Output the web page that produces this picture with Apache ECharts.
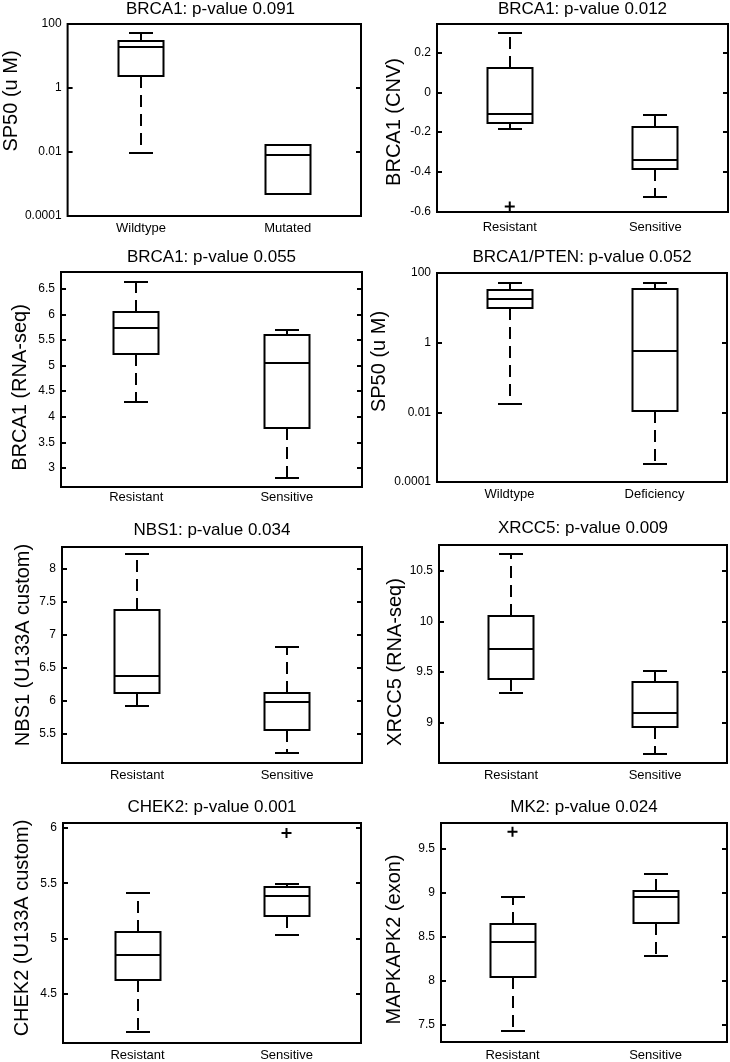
<!DOCTYPE html>
<html>
<head>
<meta charset="utf-8">
<script src="https://cdn.jsdelivr.net/npm/echarts@6/dist/echarts.min.js"></script>
<style>
	html, body { margin: 0; padding: 0; background: #fff; }
	#chart { width: 730px; height: 1062px; }
</style>
</head>
<body>
<div id="chart"></div>
<script>
// box stats per group: [lower whisker, q1, median, q3, upper whisker]
const titles = [
	'BRCA1: p-value 0.091', 'BRCA1: p-value 0.012',
	'BRCA1: p-value 0.055', 'BRCA1/PTEN: p-value 0.052',
	'NBS1: p-value 0.034', 'XRCC5: p-value 0.009',
	'CHEK2: p-value 0.001', 'MK2: p-value 0.024'
]
const yNames = [
	'SP50 (u M)', 'BRCA1 (CNV)',
	'BRCA1 (RNA-seq)', 'SP50 (u M)',
	'NBS1 (U133A custom)', 'XRCC5 (RNA-seq)',
	'CHEK2 (U133A custom)', 'MAPKAPK2 (exon)'
]
const mutCats = ['Wildtype', 'Mutated']
const ptenCats = ['Wildtype', 'Deficiency']
const respCats = ['Resistant', 'Sensitive']

const brca1MutStats = [[0.0091, 2.37, 18.6, 30, 51], [0.00048, 0.00048, 0.0081, 0.0166, 0.0166]]
const brca1CnvStats = [[-0.186, -0.153, -0.108, 0.123, 0.296], [-0.527, -0.383, -0.341, -0.172, -0.116]]
const brca1RnaStats = [[4.28, 5.23, 5.74, 6.055, 6.64], [2.8, 3.78, 5.04, 5.6, 5.69]]
const ptenStats = [[0.0178, 10.2, 18, 31.6, 51], [0.00033, 0.011, 0.56, 34.6, 51]]
const nbs1Stats = [[5.93, 6.122, 6.383, 7.372, 8.215], [5.22, 5.565, 5.99, 6.122, 6.815]]
const xrcc5Stats = [[9.3, 9.43, 9.725, 10.05, 10.66], [8.695, 8.96, 9.1, 9.4, 9.51]]
const chek2Stats = [[4.15, 4.626, 4.852, 5.054, 5.415], [5.027, 5.2, 5.38, 5.47, 5.49]]
const mk2Stats = [[7.42, 8.034, 8.44, 8.637, 8.947], [8.276, 8.652, 8.947, 9.02, 9.209]]

// outliers: [group index, value]
const brca1CnvOut = [[0, -0.572]]
const chek2Out = [[1, 5.955]]
const mk2Out = [[0, 9.69]]

// axis limits and tick labels
const logLimits = [0.0001, 100]
const logTicks = [0.0001, 0.01, 1, 100]
const cnvLimits = [-0.6, 0.342]
const cnvTicks = [-0.6, -0.4, -0.2, 0, 0.2]
const rnaLimits = [2.627, 6.827]
const rnaTicks = [3, 3.5, 4, 4.5, 5, 5.5, 6, 6.5]
const nbs1Limits = [5.063, 8.325]
const nbs1Ticks = [5.5, 6, 6.5, 7, 7.5, 8]
const xrcc5Limits = [8.607, 10.75]
const xrcc5Ticks = [9, 9.5, 10, 10.5]
const chek2Limits = [4.053, 6.045]
const chek2Ticks = [4.5, 5, 5.5, 6]
const mk2Limits = [7.3, 9.79]
const mk2Ticks = [7.5, 8, 8.5, 9, 9.5]

const panels = [
	{ cats: mutCats, stats: brca1MutStats, out: [], lim: logLimits, ticks: logTicks, log: true },
	{ cats: respCats, stats: brca1CnvStats, out: brca1CnvOut, lim: cnvLimits, ticks: cnvTicks },
	{ cats: respCats, stats: brca1RnaStats, out: [], lim: rnaLimits, ticks: rnaTicks },
	{ cats: ptenCats, stats: ptenStats, out: [], lim: logLimits, ticks: logTicks, log: true },
	{ cats: respCats, stats: nbs1Stats, out: [], lim: nbs1Limits, ticks: nbs1Ticks },
	{ cats: respCats, stats: xrcc5Stats, out: [], lim: xrcc5Limits, ticks: xrcc5Ticks },
	{ cats: respCats, stats: chek2Stats, out: chek2Out, lim: chek2Limits, ticks: chek2Ticks },
	{ cats: respCats, stats: mk2Stats, out: mk2Out, lim: mk2Limits, ticks: mk2Ticks }
]

// layout: grid [left, top, width, height], title centre y, name gap,
// name shift along the axis (+ = up), x label margin
const layout = [
	{ grid: [60, 24, 301, 192], ty: 9, gap: 40, shift: 19, lm: 6 },
	{ grid: [437, 24, 291, 188], ty: 9, gap: 33, shift: -4, lm: 9 },
	{ grid: [61, 272, 301, 215], ty: 257, gap: 31, shift: -8, lm: 4 },
	{ grid: [437, 273, 290, 209], ty: 257, gap: 48, shift: 16, lm: 6 },
	{ grid: [62, 547, 300, 216], ty: 530, gap: 29, shift: 10, lm: 6 },
	{ grid: [439, 545, 288, 218], ty: 528, gap: 30, shift: -8, lm: 6 },
	{ grid: [63, 823, 298, 220], ty: 807, gap: 31, shift: 5, lm: 6 },
	{ grid: [441, 823, 286, 219], ty: 807, gap: 37, shift: -7, lm: 7 }
]

const FONT = 'Liberation Sans, Arial, sans-serif'
const BOX_W = 45
const CAP_W = 24

function renderBox(params, api) {
	const cat = api.value(0)
	const pt = (i) => api.coord([cat, api.value(i)])
	const lo = pt(1), q1 = pt(2), med = pt(3), q3 = pt(4), hi = pt(5)
	const cx = Math.round(lo[0])
	const r = (v) => Math.round(v)
	const solid = { stroke: '#000', lineWidth: 2, fill: null }
	const dashed = { stroke: '#000', lineWidth: 2, fill: null, lineDash: [12, 7] }
	return {
		type: 'group',
		children: [
			{ type: 'line', shape: { x1: cx, y1: r(q3[1]), x2: cx, y2: r(hi[1]) }, style: dashed },
			{ type: 'line', shape: { x1: cx, y1: r(q1[1]), x2: cx, y2: r(lo[1]) }, style: dashed },
			{ type: 'line', shape: { x1: cx - CAP_W / 2, y1: r(hi[1]), x2: cx + CAP_W / 2, y2: r(hi[1]) }, style: solid },
			{ type: 'line', shape: { x1: cx - CAP_W / 2, y1: r(lo[1]), x2: cx + CAP_W / 2, y2: r(lo[1]) }, style: solid },
			{
				type: 'rect',
				shape: { x: cx - BOX_W / 2, y: r(q3[1]), width: BOX_W, height: r(q1[1]) - r(q3[1]) },
				style: { stroke: '#000', lineWidth: 2, fill: '#fff' }
			},
			{ type: 'line', shape: { x1: cx - BOX_W / 2, y1: r(med[1]), x2: cx + BOX_W / 2, y2: r(med[1]) }, style: solid }
		]
	}
}

const option = {
	backgroundColor: '#fff',
	animation: false,
	title: [],
	grid: [],
	xAxis: [],
	yAxis: [],
	series: []
}

panels.forEach((p, i) => {
	const L = layout[i]
	const [left, top, width, height] = L.grid
	option.title.push({
		text: titles[i],
		left: left + width / 2,
		top: L.ty,
		textAlign: 'center',
		textVerticalAlign: 'middle',
		padding: 0,
		textStyle: { fontSize: 17, fontWeight: 'normal', color: '#000', fontFamily: FONT }
	})
	option.grid.push({
		left, top, width, height,
		show: true,
		borderColor: '#000',
		borderWidth: 2,
		backgroundColor: 'transparent'
	})
	option.xAxis.push({
		type: 'category',
		gridIndex: i,
		data: p.cats,
		boundaryGap: true,
		axisLine: { show: false },
		axisTick: { show: false },
		axisLabel: { fontSize: 13, color: '#000', fontFamily: FONT, margin: L.lm },
		splitLine: { show: false }
	})
	const yBase = {
		type: p.log ? 'log' : 'value',
		logBase: 10,
		gridIndex: i,
		min: p.lim[0],
		max: p.lim[1],
		axisLine: { show: false },
		splitLine: { show: false },
		axisTick: { show: true, inside: true, length: 5, lineStyle: { color: '#000', width: 2 }, customValues: p.ticks }
	}
	// padding on one end of the rotated name moves it along the axis by half
	const pad = L.shift > 0 ? [0, 0, 0, 2 * L.shift] : [0, -2 * L.shift, 0, 0]
	option.yAxis.push(Object.assign({}, yBase, {
		position: 'left',
		name: yNames[i],
		nameLocation: 'middle',
		nameGap: L.gap,
		nameTextStyle: { fontSize: 20, color: '#000', fontFamily: FONT, padding: pad },
		axisLabel: { fontSize: 12, color: '#000', fontFamily: FONT, margin: 6, customValues: p.ticks }
	}))
	option.yAxis.push(Object.assign({}, yBase, {
		position: 'right',
		axisLabel: { show: false }
	}))
	option.series.push({
		type: 'custom',
		xAxisIndex: i,
		yAxisIndex: 2 * i,
		renderItem: renderBox,
		encode: { x: 0, y: [1, 2, 3, 4, 5] },
		data: p.stats.map((s, k) => [k].concat(s))
	})
	if (p.out.length) {
		option.series.push({
			type: 'scatter',
			xAxisIndex: i,
			yAxisIndex: 2 * i,
			symbol: 'path://M4,0H6V4H10V6H6V10H4V6H0V4H4Z',
			symbolSize: 10,
			itemStyle: { color: '#000', opacity: 1 },
			data: p.out
		})
	}
})

const chart = echarts.init(document.getElementById('chart'))
chart.setOption(option)
</script>
</body>
</html>
